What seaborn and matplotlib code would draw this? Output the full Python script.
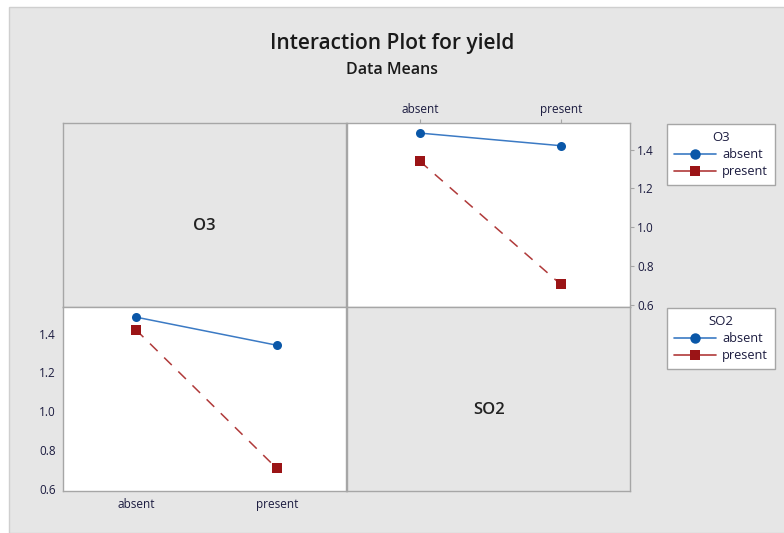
import matplotlib
matplotlib.use("Agg")
import matplotlib.pyplot as plt
from matplotlib.lines import Line2D
from matplotlib.patches import Rectangle
import seaborn as sns
import pandas as pd

# cell means of yield
o3_level = ["absent", "absent", "present", "present"]
so2_level = ["absent", "present", "absent", "present"]
yield_mean = [1.485, 1.42, 1.34, 0.705]

levels = ["absent", "present"]
y_ticks = [0.6, 0.8, 1.0, 1.2, 1.4]

data = pd.DataFrame({"O3": o3_level, "SO2": so2_level, "yield": yield_mean})
data["O3_x"] = data["O3"].map({"absent": 0, "present": 1})
data["SO2_x"] = data["SO2"].map({"absent": 0, "present": 1})

sns.set_style("white")
plt.rcParams["font.family"] = ["Open Sans", "DejaVu Sans"]

bg = "#e6e6e6"
frame = "#a6a6a6"
tick_col = "#1c1c40"
colors = {"absent": "#0a57a8", "present": "#9b1416"}
markers = {"absent": "o", "present": "s"}
dashes = {"absent": (1, 0), "present": (7, 6)}
blue_line = "#3b7ac4"
red_line = "#b03a3a"

fig = plt.figure(figsize=(7.84, 5.33), dpi=100, facecolor="white")
fig.patches.append(Rectangle((9 / 784, 0), 1, 1 - 7 / 533, transform=fig.transFigure,
                             facecolor=bg, edgecolor="#cfcfcf", linewidth=1, zorder=-10))

x0, xm = 63 / 784, 347 / 784
w = 0.3615
yb, ym = 1 - 491 / 533, 1 - 307 / 533
h = 0.3452

ax_tl = fig.add_axes([x0, ym, w, h])
ax_tr = fig.add_axes([xm, ym, w, h])
ax_bl = fig.add_axes([x0, yb, w, h])
ax_br = fig.add_axes([xm, yb, w, h])

for ax in [ax_tl, ax_tr, ax_bl, ax_br]:
    for s in ax.spines.values():
        s.set_color(frame)
        s.set_linewidth(1)

# diagonal panels: just the factor names
for ax, name in [(ax_tl, "O3"), (ax_br, "SO2")]:
    ax.set_facecolor(bg)
    ax.set_xticks([])
    ax.set_yticks([])
    ax.text(0.5, 0.44, name, transform=ax.transAxes, ha="center", va="center",
            fontsize=12, fontweight="semibold", color="#222222")


def draw(ax, xcol, hue):
    sns.lineplot(data=data, x=xcol, y="yield", hue=hue, style=hue,
                 palette=colors, markers=markers, dashes=dashes,
                 markersize=6.5, linewidth=1.1, markeredgewidth=0,
                 legend=False, ax=ax)
    ax.set_facecolor("white")
    ax.set_xlim(-0.517, 1.495)
    ax.set_ylim(0.588, 1.537)
    ax.set_xticks([0, 1])
    ax.set_xticklabels(levels)
    ax.set_yticks(y_ticks)
    ax.set_yticklabels([f"{t:.1f}" for t in y_ticks])
    ax.set_xlabel("")
    ax.set_ylabel("")
    ax.tick_params(length=3, width=0.8, color=frame, labelsize=8.5,
                   labelcolor=tick_col, pad=2)
    # lighter line colour, solid marker colour
    for line in ax.lines:
        if line.get_marker() == "o":
            line.set_color(blue_line)
            line.set_markerfacecolor(colors["absent"])
            line.set_markeredgecolor(colors["absent"])
        else:
            line.set_color(red_line)
            line.set_markerfacecolor(colors["present"])
            line.set_markeredgecolor(colors["present"])


# top right: SO2 on x, lines per O3 level
draw(ax_tr, "SO2_x", "O3")
ax_tr.xaxis.tick_top()
ax_tr.yaxis.tick_right()

# bottom left: O3 on x, lines per SO2 level
draw(ax_bl, "O3_x", "SO2")

fig.text(0.5, 1 - 44 / 533, "Interaction Plot for yield", ha="center", va="center",
         fontsize=15, fontweight="semibold", color="#1a1a1a")
fig.text(0.5, 1 - 70 / 533, "Data Means", ha="center", va="center",
         fontsize=11.5, fontweight="semibold", color="#1a1a1a")

handles = [
    Line2D([], [], color=blue_line, marker="o", markersize=7.5,
           markerfacecolor=colors["absent"], markeredgewidth=0, linewidth=1.2),
    Line2D([], [], color=red_line, marker="s", markersize=7.5,
           markerfacecolor=colors["present"], markeredgewidth=0, linewidth=1.2),
]
for title, top in [("O3", 1 - 124 / 533), ("SO2", 1 - 308 / 533)]:
    leg = fig.legend(handles, levels, title=title, loc="upper left",
                     bbox_to_anchor=(667 / 784, top), fontsize=9.2,
                     title_fontsize=9.5, handlelength=3.3, handletextpad=0.45,
                     borderpad=0.55, labelspacing=0.33, fancybox=False,
                     framealpha=1, edgecolor=frame, borderaxespad=0)
    leg.get_frame().set_linewidth(1)
    leg.get_title().set_color(tick_col)
    for t in leg.get_texts():
        t.set_color(tick_col)

fig.savefig("out.png", dpi=100, facecolor=fig.get_facecolor())
